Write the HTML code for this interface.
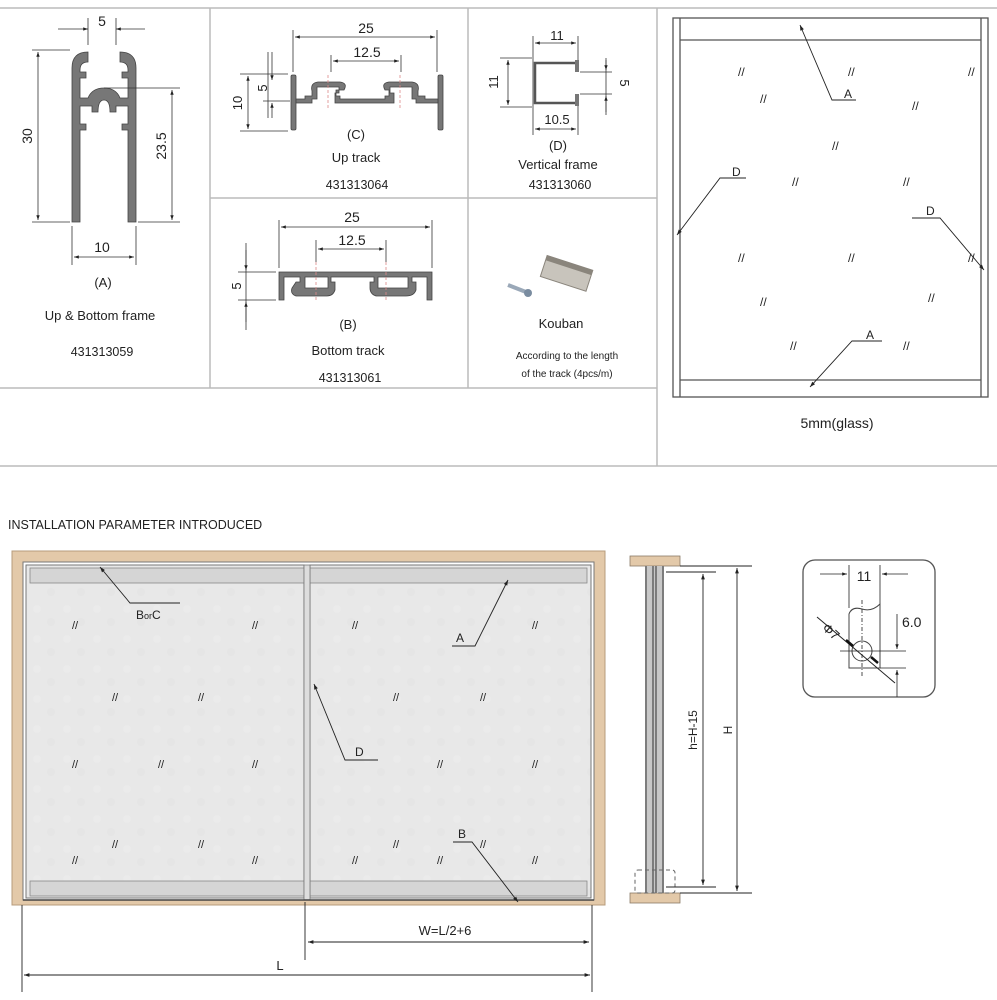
<!DOCTYPE html>
<html><head><meta charset="utf-8"><style>
html,body{margin:0;padding:0;background:#fff}
svg{display:block}
text{font-family:"Liberation Sans",sans-serif;fill:#222}
</style></head><body>
<svg width="997" height="1000" viewBox="0 0 997 1000" xmlns="http://www.w3.org/2000/svg">
<defs>
<marker id="ar" viewBox="0 0 10 10" refX="10" refY="5" markerWidth="8" markerHeight="6" orient="auto-start-reverse"><path d="M0,1.5 L10,5 L0,8.5z" fill="#222"/></marker>
<pattern id="tex" width="30" height="30" patternUnits="userSpaceOnUse"><rect width="30" height="30" fill="#e8e8e8"/><circle cx="7" cy="9" r="4" fill="#ebebeb"/><circle cx="21" cy="22" r="4" fill="#e5e5e5"/></pattern>
</defs>
<g stroke="#bbb" stroke-width="1.5" fill="none">
<line x1="0" y1="8" x2="997" y2="8"/>
<line x1="0" y1="466" x2="997" y2="466"/>
<line x1="0" y1="388" x2="657" y2="388"/>
<line x1="210" y1="198" x2="657" y2="198"/>
<line x1="210" y1="8" x2="210" y2="388"/>
<line x1="468" y1="8" x2="468" y2="388"/>
<line x1="657" y1="8" x2="657" y2="466"/>
</g>

<!-- (A) profile -->
<g fill="#777" stroke="#444" stroke-width="0.8">
<path d="M72,222 L72,68 Q72,52 88,52 L88,62 Q80,62 80,70 L80,72 L86,72 L86,78 L80,78 L80,98 L88,98 Q92,88 104,88 Q116,88 120,98 L128,98 L128,78 L122,78 L122,72 L128,72 L128,70 Q128,62 120,62 L120,52 Q136,52 136,68 L136,222 L128,222 L128,130 L122,130 L122,124 L128,124 L128,106 L116,106 L116,112 L110,112 Q110,100 104,100 Q98,100 98,112 L92,112 L92,106 L80,106 L80,124 L86,124 L86,130 L80,130 L80,222 Z"/>
</g>
<g stroke="#333" stroke-width="0.8" fill="none">
<line x1="88" y1="18" x2="88" y2="45"/><line x1="116" y1="18" x2="116" y2="45"/>
<line x1="58" y1="29" x2="88" y2="29" marker-end="url(#ar)"/><line x1="145" y1="29" x2="116" y2="29" marker-end="url(#ar)"/>
<line x1="32" y1="50" x2="70" y2="50"/><line x1="32" y1="222" x2="70" y2="222"/>
<line x1="38" y1="52" x2="38" y2="220" marker-start="url(#ar)" marker-end="url(#ar)"/>
<line x1="104" y1="88" x2="180" y2="88"/><line x1="138" y1="222" x2="180" y2="222"/>
<line x1="172" y1="90" x2="172" y2="220" marker-start="url(#ar)" marker-end="url(#ar)"/>
<line x1="72" y1="226" x2="72" y2="265"/><line x1="136" y1="226" x2="136" y2="265"/>
<line x1="74" y1="257" x2="134" y2="257" marker-start="url(#ar)" marker-end="url(#ar)"/>
</g>
<text x="102" y="26" font-size="14" text-anchor="middle">5</text>
<text x="32" y="136" font-size="14" text-anchor="middle" transform="rotate(-90 32 136)">30</text>
<text x="166" y="146" font-size="14" text-anchor="middle" transform="rotate(-90 166 146)">23.5</text>
<text x="102" y="252" font-size="14" text-anchor="middle">10</text>
<text x="103" y="287" font-size="13" text-anchor="middle">(A)</text>
<text x="100" y="320" font-size="13" text-anchor="middle">Up &amp; Bottom frame</text>
<text x="102" y="356" font-size="12.5" text-anchor="middle">431313059</text>

<!-- (C) up track -->
<g fill="#777" stroke="#444" stroke-width="0.8">
<rect x="291" y="75" width="5" height="55" rx="1.5"/>
<rect x="438" y="75" width="5" height="55" rx="1.5"/>
<path d="M296,99 L305,99 L305,96 L312,96 L312,91 Q310,83 318,82 L340,82 Q348,83 344,90 L336,90 L336,96 L340,96 L340,99 L385,99 L385,96 L389,96 L389,90 L385,90 Q381,83 389,82 L412,82 Q420,83 418,91 L418,96 L425,96 L425,99 L438,99 L438,103 L416,103 L416,99 L412,99 L412,87 L390,87 L390,93 L394,93 L394,103 L335,103 L335,93 L339,93 L339,87 L317,87 L317,99 L312,99 L312,103 L296,103 Z"/>
</g>
<g stroke="#d88" stroke-width="0.8" stroke-dasharray="3,2"><line x1="328" y1="75" x2="328" y2="108"/><line x1="400" y1="75" x2="400" y2="108"/></g>
<g stroke="#333" stroke-width="0.8" fill="none">
<line x1="293" y1="30" x2="293" y2="72"/><line x1="437" y1="30" x2="437" y2="72"/>
<line x1="295" y1="37" x2="435" y2="37" marker-start="url(#ar)" marker-end="url(#ar)"/>
<line x1="331" y1="55" x2="331" y2="72"/><line x1="401" y1="55" x2="401" y2="72"/>
<line x1="333" y1="61" x2="399" y2="61" marker-start="url(#ar)" marker-end="url(#ar)"/>
<line x1="240" y1="74" x2="288" y2="74"/><line x1="240" y1="131" x2="288" y2="131"/>
<line x1="248" y1="76" x2="248" y2="129" marker-start="url(#ar)" marker-end="url(#ar)"/>
<line x1="268" y1="52" x2="268" y2="118"/>
<line x1="263" y1="101" x2="290" y2="101"/>
<line x1="272" y1="52" x2="272" y2="80" marker-end="url(#ar)"/>
<line x1="272" y1="118" x2="272" y2="103" marker-end="url(#ar)"/>
</g>
<text x="366" y="33" font-size="14" text-anchor="middle">25</text>
<text x="367" y="57" font-size="14" text-anchor="middle">12.5</text>
<text x="242" y="103" font-size="13" text-anchor="middle" transform="rotate(-90 242 103)">10</text>
<text x="267" y="88" font-size="13" text-anchor="middle" transform="rotate(-90 267 88)">5</text>
<text x="356" y="139" font-size="13" text-anchor="middle">(C)</text>
<text x="356" y="162" font-size="13" text-anchor="middle">Up track</text>
<text x="357" y="189" font-size="12.5" text-anchor="middle">431313064</text>

<!-- (B) bottom track -->
<g fill="#777" stroke="#444" stroke-width="0.8">
<path d="M279,272 L432,272 L432,300 L427,300 L427,277 L412,277 L412,282 L416,282 L416,290 Q414,296 406,296 L376,296 Q370,294 370,288 L370,282 L374,282 L374,277 L331,277 L331,282 L335,282 L335,290 Q333,296 327,296 L296,296 Q290,294 292,288 L296,282 L300,282 L300,277 L284,277 L284,300 L279,300 Z M305,277 L305,288 L328,288 L328,277 Z M378,277 L378,288 L408,288 L408,277 Z" fill-rule="evenodd"/>
</g>
<g stroke="#d88" stroke-width="0.8" stroke-dasharray="3,2"><line x1="316" y1="262" x2="316" y2="300"/><line x1="386" y1="262" x2="386" y2="300"/></g>
<g stroke="#333" stroke-width="0.8" fill="none">
<line x1="279" y1="220" x2="279" y2="268"/><line x1="432" y1="220" x2="432" y2="268"/>
<line x1="281" y1="227" x2="430" y2="227" marker-start="url(#ar)" marker-end="url(#ar)"/>
<line x1="316" y1="240" x2="316" y2="262"/><line x1="386" y1="240" x2="386" y2="262"/>
<line x1="318" y1="249" x2="384" y2="249" marker-start="url(#ar)" marker-end="url(#ar)"/>
<line x1="238" y1="272" x2="276" y2="272"/><line x1="238" y1="300" x2="276" y2="300"/>
<line x1="246" y1="243" x2="246" y2="330"/>
<line x1="246" y1="250" x2="246" y2="270" marker-end="url(#ar)"/>
<line x1="246" y1="322" x2="246" y2="302" marker-end="url(#ar)"/>
</g>
<text x="352" y="222" font-size="14" text-anchor="middle">25</text>
<text x="352" y="245" font-size="14" text-anchor="middle">12.5</text>
<text x="241" y="286" font-size="13" text-anchor="middle" transform="rotate(-90 241 286)">5</text>
<text x="348" y="329" font-size="13" text-anchor="middle">(B)</text>
<text x="348" y="355" font-size="13" text-anchor="middle">Bottom track</text>
<text x="350" y="382" font-size="12.5" text-anchor="middle">431313061</text>

<!-- (D) vertical frame -->
<g fill="none" stroke="#555" stroke-width="2.5"><path d="M577,63 L535,63 L535,103 L577,103"/></g>
<g fill="#777"><rect x="575" y="60" width="4" height="12"/><rect x="575" y="94" width="4" height="12"/></g>
<g stroke="#333" stroke-width="0.8" fill="none">
<line x1="533" y1="36" x2="533" y2="135"/><line x1="578" y1="36" x2="578" y2="60"/><line x1="578" y1="106" x2="578" y2="135"/>
<line x1="535" y1="43" x2="576" y2="43" marker-start="url(#ar)" marker-end="url(#ar)"/>
<line x1="535" y1="129" x2="576" y2="129" marker-start="url(#ar)" marker-end="url(#ar)"/>
<line x1="500" y1="58" x2="532" y2="58"/><line x1="500" y1="107" x2="532" y2="107"/>
<line x1="508" y1="60" x2="508" y2="105" marker-start="url(#ar)" marker-end="url(#ar)"/>
<line x1="580" y1="72" x2="612" y2="72"/><line x1="580" y1="94" x2="612" y2="94"/>
<line x1="606" y1="58" x2="606" y2="115"/>
<line x1="606" y1="60" x2="606" y2="70" marker-end="url(#ar)"/>
<line x1="606" y1="112" x2="606" y2="96" marker-end="url(#ar)"/>
</g>
<text x="557" y="40" font-size="13" text-anchor="middle">11</text>
<text x="498" y="82" font-size="13" text-anchor="middle" transform="rotate(-90 498 82)">11</text>
<text x="620" y="83" font-size="13" text-anchor="middle" transform="rotate(90 620 83)">5</text>
<text x="557" y="124" font-size="13" text-anchor="middle">10.5</text>
<text x="558" y="150" font-size="13" text-anchor="middle">(D)</text>
<text x="558" y="169" font-size="13" text-anchor="middle">Vertical frame</text>
<text x="560" y="189" font-size="12.5" text-anchor="middle">431313060</text>

<!-- Kouban -->
<g transform="rotate(18 565 275)"><rect x="542" y="262" width="48" height="22" fill="#c8c4bc" stroke="#8a857c"/><rect x="542" y="262" width="48" height="5" fill="#8a857c"/></g>
<line x1="508" y1="285" x2="526" y2="292" stroke="#9aa8b8" stroke-width="4"/>
<circle cx="528" cy="293" r="4" fill="#7a8ca0"/>
<text x="561" y="328" font-size="13" text-anchor="middle">Kouban</text>
<text x="567" y="359" font-size="10" text-anchor="middle">According to the length</text>
<text x="567" y="377" font-size="10" text-anchor="middle">of the track (4pcs/m)</text>

<!-- glass right -->
<g stroke="#555" stroke-width="1.3" fill="none">
<rect x="673" y="18" width="315" height="379"/>
<line x1="680" y1="18" x2="680" y2="397"/><line x1="981" y1="18" x2="981" y2="397"/>
<line x1="680" y1="40" x2="981" y2="40"/><line x1="680" y1="380" x2="981" y2="380"/>
</g>
<g stroke="#222" stroke-width="0.9" fill="none">
<polyline points="856,100 832,100 800,25" marker-end="url(#ar)"/>
<polyline points="746,178 720,178 677,235" marker-end="url(#ar)"/>
<polyline points="912,218 940,218 984,270" marker-end="url(#ar)"/>
<polyline points="882,341 852,341 810,387" marker-end="url(#ar)"/>
</g>
<text x="844" y="98" font-size="12">A</text>
<text x="732" y="176" font-size="12">D</text>
<text x="926" y="215" font-size="12">D</text>
<text x="866" y="339" font-size="12">A</text>
<g font-size="12" fill="#666">
<text x="738" y="76">//</text><text x="848" y="76">//</text><text x="968" y="76">//</text>
<text x="760" y="103">//</text><text x="912" y="110">//</text><text x="832" y="150">//</text>
<text x="792" y="186">//</text><text x="903" y="186">//</text>
<text x="738" y="262">//</text><text x="848" y="262">//</text><text x="968" y="262">//</text>
<text x="760" y="306">//</text><text x="928" y="302">//</text>
<text x="790" y="350">//</text><text x="903" y="350">//</text>
</g>
<text x="837" y="428" font-size="14" text-anchor="middle">5mm(glass)</text>

<!-- bottom -->
<text x="8" y="529" font-size="12.5">INSTALLATION PARAMETER INTRODUCED</text>
<rect x="12" y="551" width="593" height="354" fill="#e3c9a9" stroke="#b79c7c"/>
<rect x="23" y="562" width="571" height="338" fill="#fff" stroke="#777"/>
<rect x="26" y="565" width="278" height="333" fill="url(#tex)" stroke="#777"/>
<rect x="310" y="565" width="281" height="333" fill="url(#tex)" stroke="#777"/>
<rect x="30" y="568" width="274" height="15" fill="#d5d5d5" stroke="#888" stroke-width="0.8"/>
<rect x="310" y="568" width="277" height="15" fill="#d5d5d5" stroke="#888" stroke-width="0.8"/>
<rect x="30" y="881" width="274" height="15" fill="#d5d5d5" stroke="#888" stroke-width="0.8"/>
<rect x="310" y="881" width="277" height="15" fill="#d5d5d5" stroke="#888" stroke-width="0.8"/>
<rect x="304" y="565" width="6" height="335" fill="#ddd" stroke="#777" stroke-width="0.8"/>
<line x1="23" y1="900" x2="594" y2="900" stroke="#444" stroke-width="1.5"/>
<g stroke="#222" stroke-width="0.9" fill="none">
<polyline points="180,603 130,603 100,567" marker-end="url(#ar)"/>
<polyline points="452,646 475,646 508,580" marker-end="url(#ar)"/>
<polyline points="378,760 345,760 314,684" marker-end="url(#ar)"/>
<polyline points="453,842 472,842 518,902" marker-end="url(#ar)"/>
<line x1="305" y1="902" x2="305" y2="960"/>
<line x1="22" y1="905" x2="22" y2="992"/><line x1="592" y1="905" x2="592" y2="992"/>
<line x1="308" y1="942" x2="589" y2="942" marker-start="url(#ar)" marker-end="url(#ar)"/>
<line x1="24" y1="975" x2="590" y2="975" marker-start="url(#ar)" marker-end="url(#ar)"/>
</g>
<text x="136" y="619" font-size="12">B<tspan font-size="9">or</tspan>C</text>
<text x="456" y="642" font-size="12">A</text>
<text x="355" y="756" font-size="12">D</text>
<text x="458" y="838" font-size="12">B</text>
<text x="445" y="935" font-size="13" text-anchor="middle">W=L/2+6</text>
<text x="280" y="970" font-size="13" text-anchor="middle">L</text>
<g font-size="11" fill="#888">
<text x="72" y="629">//</text><text x="252" y="629">//</text><text x="352" y="629">//</text><text x="532" y="629">//</text>
<text x="112" y="701">//</text><text x="198" y="701">//</text><text x="393" y="701">//</text><text x="480" y="701">//</text>
<text x="72" y="768">//</text><text x="158" y="768">//</text><text x="252" y="768">//</text><text x="437" y="768">//</text><text x="532" y="768">//</text>
<text x="112" y="848">//</text><text x="198" y="848">//</text><text x="393" y="848">//</text><text x="480" y="848">//</text>
<text x="72" y="864">//</text><text x="252" y="864">//</text><text x="352" y="864">//</text><text x="437" y="864">//</text><text x="532" y="864">//</text>
</g>

<!-- side view -->
<rect x="630" y="556" width="50" height="10" fill="#e3c9a9" stroke="#8a7a66" stroke-width="0.8"/>
<rect x="630" y="893" width="50" height="10" fill="#e3c9a9" stroke="#8a7a66" stroke-width="0.8"/>
<rect x="645" y="566" width="19" height="327" fill="#c8c8c8"/>
<g stroke="#555" stroke-width="1.3"><line x1="646" y1="566" x2="646" y2="893"/><line x1="653" y1="566" x2="653" y2="893"/><line x1="656" y1="566" x2="656" y2="893"/><line x1="663" y1="566" x2="663" y2="893"/></g>
<rect x="635" y="870" width="40" height="23" fill="none" stroke="#666" stroke-dasharray="4,3" rx="3"/>
<g stroke="#222" stroke-width="0.9" fill="none">
<line x1="680" y1="566" x2="752" y2="566"/><line x1="680" y1="893" x2="752" y2="893"/>
<line x1="666" y1="572" x2="716" y2="572"/><line x1="666" y1="887" x2="716" y2="887"/>
<line x1="703" y1="574" x2="703" y2="885" marker-start="url(#ar)" marker-end="url(#ar)"/>
<line x1="737" y1="568" x2="737" y2="891" marker-start="url(#ar)" marker-end="url(#ar)"/>
</g>
<text x="697" y="730" font-size="12" text-anchor="middle" transform="rotate(-90 697 730)">h=H-15</text>
<text x="732" y="730" font-size="12" text-anchor="middle" transform="rotate(-90 732 730)">H</text>

<!-- detail -->
<rect x="803" y="560" width="132" height="137" rx="12" fill="#fff" stroke="#555" stroke-width="1.3"/>
<g stroke="#222" stroke-width="0.8" fill="none">
<line x1="849" y1="565" x2="849" y2="608"/><line x1="880" y1="565" x2="880" y2="610"/>
<line x1="820" y1="574" x2="847" y2="574" marker-end="url(#ar)"/>
<line x1="908" y1="574" x2="882" y2="574" marker-end="url(#ar)"/>
<path d="M849,668 L849,614 Q852,606 862,609 Q872,612 880,604 L880,668 Z" stroke="#444" stroke-width="1"/>
<circle cx="862" cy="651" r="10" stroke="#444" stroke-width="1"/>
<line x1="862" y1="600" x2="862" y2="678" stroke-dasharray="4,2,1,2"/>
<line x1="840" y1="651" x2="906" y2="651"/>
<line x1="880" y1="668" x2="906" y2="668"/>
<line x1="817" y1="617" x2="895" y2="683" stroke-width="1"/>
<line x1="897" y1="614" x2="897" y2="649" marker-end="url(#ar)"/>
<line x1="897" y1="697" x2="897" y2="670" marker-end="url(#ar)"/>
</g>
<line x1="846" y1="640" x2="853" y2="646" stroke="#111" stroke-width="2.5"/>
<line x1="871" y1="657" x2="878" y2="663" stroke="#111" stroke-width="2.5"/>
<text x="864" y="581" font-size="14" text-anchor="middle">11</text>
<text x="902" y="627" font-size="14">6.0</text>
<text x="820" y="633" font-size="13" transform="rotate(42 826 633)">Φ7</text>
</svg>
</body></html>
